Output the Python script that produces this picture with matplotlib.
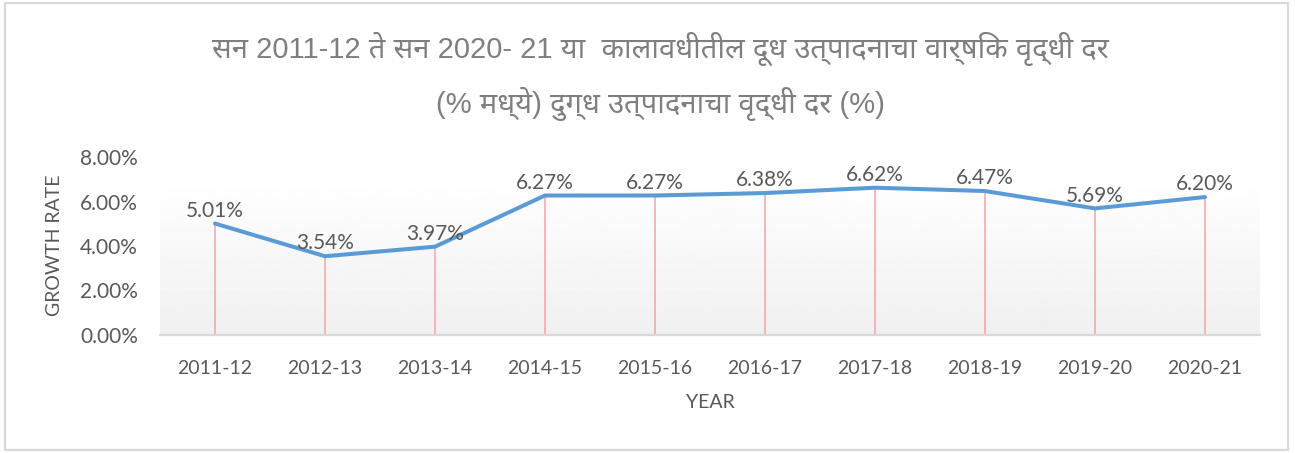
import numpy as np
import matplotlib
matplotlib.use("Agg")
import matplotlib.pyplot as plt
from matplotlib import font_manager
from matplotlib.patches import Rectangle

# -----------------------------
# Data
# -----------------------------
years = ["2011-12", "2012-13", "2013-14", "2014-15", "2015-16",
         "2016-17", "2017-18", "2018-19", "2019-20", "2020-21"]
growth = [5.01, 3.54, 3.97, 6.27, 6.27, 6.38, 6.62, 6.47, 5.69, 6.20]
yticks = [0, 2, 4, 6, 8]

title = ("सन 2011-12 ते सन 2020- 21 या  कालावधीतील दूध उत्पादनाचा वार्षिक वृद्धी दर\n"
         "(% मध्ये) दुग्ध उत्पादनाचा वृद्धी दर (%)")
xlabel = "YEAR"
ylabel = "GROWTH RATE"

# latin/digits in an Arial-like face, devanagari falls back to Noto
names = set(f.name for f in font_manager.fontManager.ttflist)
title_family = [n for n in ["Liberation Sans", "Noto Sans Devanagari"] if n in names] + ["DejaVu Sans"]

plt.rcParams['font.family'] = ['Lato', 'DejaVu Sans']
txt = '#595959'

fig = plt.figure(figsize=(12.95, 4.53), dpi=100)
W, H = 1295, 453
ax = fig.add_axes([160 / W, 1 - 335 / H, 1100 / W, 178 / H])

x = np.arange(len(years))

# gradient plot area background
grad = np.linspace(0.94, 1.0, 256).reshape(-1, 1)
ax.imshow(grad, extent=[0, 1, 0, 0.88], transform=ax.transAxes, aspect='auto',
          cmap='gray', vmin=0, vmax=1, origin='lower', zorder=0)

# drop lines
ax.vlines(x, 0, growth, color='#f4a3a6', lw=1.1, zorder=2)
ax.plot(x, growth, color='#5b9bd5', lw=2.9, solid_capstyle='round',
        solid_joinstyle='round', zorder=3)

for xi, v in zip(x, growth):
    ax.annotate("%.2f%%" % v, (xi, v), xytext=(0, 2), textcoords='offset points',
                ha='center', va='bottom', fontsize=15, color=txt, zorder=4)

ax.set_xlim(-0.5, len(years) - 0.5)
ax.set_ylim(0, 8)
ax.set_xticks(x)
ax.set_xticklabels(years)
ax.set_yticks(yticks)
ax.set_yticklabels(["%.2f%%" % t for t in yticks])
ax.tick_params(length=0, labelcolor=txt)
ax.tick_params(axis='x', pad=18, labelsize=14)
ax.tick_params(axis='y', pad=16, labelsize=15)
for s in ['top', 'right', 'left']:
    ax.spines[s].set_visible(False)
ax.spines['bottom'].set_color('#d9d9d9')
ax.spines['bottom'].set_linewidth(1.6)
ax.spines['bottom'].set_zorder(5)

fig.text(710 / W, 1 - 403 / H, xlabel, ha='center', va='center', fontsize=14, color=txt)
fig.text(55 / W, 1 - 245 / H, ylabel, ha='center', va='center', rotation=90,
         fontsize=14, color=txt)

fig.text(660 / W, 1 - 76 / H, title, ha='center', va='center', fontsize=21,
         color='#7f7f7f', family=title_family, linespacing=1.8)

# chart border
fig.patches.append(Rectangle((5 / W, 3 / H), 1283 / W, 447 / H, transform=fig.transFigure,
                             fill=False, edgecolor='#d9d9d9', lw=1.6))

fig.savefig("out.png", dpi=100)
